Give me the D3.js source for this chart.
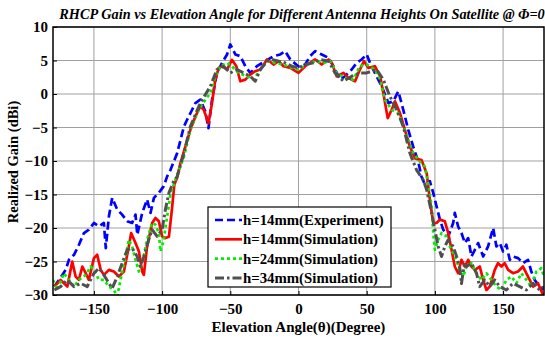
<!DOCTYPE html>
<html>
<head>
<meta charset="utf-8">
<script src="https://cdn.jsdelivr.net/npm/d3@7"></script>
<style>
  body { margin: 0; background: #fff; }
  svg { display: block; font-family: "Liberation Serif", "Times New Roman", serif; }
</style>
</head>
<body>
<div class="chart"></div>
<script>
// values, [angle (deg), gain (dBi)]
const expH14 = [
  [-179, -28.75], [-175.6, -27.75], [-170.7, -26.25], [-168.3, -24.75], [-164.6, -24], [-161, -22.5],
  [-157.3, -20.75], [-153.7, -20.25], [-150, -19.25], [-146.3, -19.75], [-142.7, -19.25], [-141.3, -23],
  [-139, -18.25], [-136.6, -15.5], [-132.9, -17.25], [-129.3, -18], [-125.6, -19], [-122, -19.25],
  [-119.5, -18], [-118.2, -21], [-114.6, -17.75], [-111, -15.75], [-108.5, -17.75], [-106, -15.5],
  [-102.4, -14.75], [-98.8, -13.75], [-96.3, -12.3], [-93.9, -11.35], [-89, -8.85], [-84, -4.85],
  [-81.7, -3.85], [-78, -2.35], [-75.6, -1.35], [-72, -0.85], [-68.3, -2.6], [-66, -5.1],
  [-63.4, -0.85], [-59.8, 3.15], [-56, 4.65], [-52.4, 5.9], [-50, 7.4], [-46.3, 5.9], [-42.7, 5.65],
  [-39, 4.15], [-35.4, 3.15], [-30.5, 4.15], [-24.4, 4.9], [-18.3, 5.65], [-13.4, 5.9], [-9.8, 6.4],
  [-6, 5.15], [0, 4.1], [4.9, 4.4], [8.5, 5.65], [12.2, 6.4], [17, 5.9], [22, 5.4], [25.6, 4.15],
  [30.5, 2.15], [34, 2.65], [39, 3.65], [42.7, 4.65], [46.3, 5.15], [50, 5.9], [52.4, 4.65], [56, 3.15],
  [61, 1.15], [65.9, -1.35], [69.5, -1.1], [73.2, 0.4], [76.8, -2.35], [80.5, -5.35], [84.1, -7.85],
  [87.8, -10.1], [90.2, -12.35], [92.7, -13.5], [96.3, -13], [98.8, -14.75], [101.2, -16.75],
  [103.7, -18.75], [106.1, -20.25], [109.8, -21.25], [113.4, -19.25], [114.6, -17.75], [117, -19.75],
  [119.5, -20.75], [122, -22.25], [124.4, -21.5], [126.8, -24.25], [129.3, -23.25], [131.7, -22.25],
  [135.4, -24.25], [139, -22.75], [142.7, -20], [145.1, -22.75], [147.6, -22.25], [150, -23.5],
  [152.4, -22.5], [154.9, -24.75], [157.3, -24.25], [161, -24.5], [164.6, -25.25], [168.3, -24.75],
  [170.7, -26.5], [173.2, -27.75], [176.8, -28.75], [179.3, -29.25]
];
const simH14 = [
  [-179, -28.75], [-174.4, -27.75], [-169.5, -28.75], [-165.9, -25], [-163.4, -27.25], [-161, -27.75],
  [-158.5, -25.75], [-156, -26.75], [-153.7, -27.75], [-150, -24.5], [-147.6, -24], [-145, -26.25],
  [-142.7, -27], [-139, -26.25], [-135.4, -26.5], [-131.7, -27.25], [-128, -26.5], [-124.4, -22.75],
  [-122.7, -20.75], [-119.5, -22.25], [-117, -23.5], [-114.6, -26.5], [-113.4, -27], [-111, -22.75],
  [-107.3, -19.25], [-104.9, -18.5], [-102.4, -19], [-100, -21.25], [-97.6, -21.5], [-95, -21.3],
  [-92.7, -17], [-91, -13.5], [-89, -12.5], [-86.6, -10.35], [-79.3, -5.35], [-75.6, -3.35], [-72, -1.85],
  [-69.5, -2.35], [-66, -4.35], [-63.4, -1.35], [-61, 2.15], [-58.5, 3.9], [-56, 4.15], [-52.4, 3.65],
  [-48.8, 5.1], [-45.6, 4.15], [-42.7, 1.9], [-39, 2.15], [-35.4, 2.9], [-31.7, 3.4], [-28, 3.65],
  [-23, 5.15], [-18.3, 4.4], [-14.6, 4.9], [-11, 4.15], [-6, 3.9], [0, 3.15], [4.9, 4.15], [8.5, 4.65],
  [12.2, 5.15], [17, 4.4], [22, 5.15], [24.4, 4.65], [28, 2.65], [33, 3.15], [36.6, 2.4], [41.5, 1.9],
  [45, 3.65], [48, 4.9], [51.2, 3.9], [56, 4.15], [59.8, 2.65], [62.2, 0.15], [65.4, -3.6], [68.3, -2.35],
  [70.7, -1.1], [74.4, -2.85], [78, -5.35], [81.7, -7.85], [85.4, -9.6], [90.2, -9.85], [94, -11.85],
  [96.3, -15.75], [98.8, -19.25], [101.2, -19.25], [103.7, -18.75], [107.3, -19], [109.8, -20.75],
  [112.2, -23.25], [114.6, -25.75], [117, -26.75], [119.5, -24.75], [122, -25.75], [124.4, -24.75],
  [126.8, -25.75], [129.3, -26.25], [132.9, -25.75], [135.4, -27.75], [137.8, -29.25], [140.2, -28.75],
  [143.9, -26.25], [146.3, -25.25], [148.8, -25.75], [151.2, -25.25], [153.7, -26.25], [157.3, -26.75],
  [161, -26.5], [164.6, -25.75], [168.3, -27.25], [172, -28.75], [175.6, -28.25], [179.3, -30]
];
const simH24 = [
  [-180, -27.75], [-176.8, -29.25], [-172, -26.75], [-168.3, -27.75], [-164.6, -28.75], [-161, -27.75],
  [-156, -27], [-152.4, -25.75], [-150, -26.25], [-146.3, -27.75], [-142.7, -27.75], [-139, -28.75],
  [-135.4, -29.25], [-132.9, -30.2], [-130.5, -27.75], [-126.8, -24.25], [-124.4, -21.75], [-122, -22.75],
  [-119.5, -24.75], [-117, -26.5], [-114.6, -25.25], [-111, -21.75], [-107.3, -19.25], [-104.9, -19.5],
  [-102.4, -20.75], [-101.2, -23.5], [-98.8, -21.75], [-96.3, -18.25], [-93.9, -15], [-90.2, -12.75],
  [-84, -9.35], [-79.3, -5.35], [-73.2, -2.35], [-68.3, -0.85], [-64.6, 0.15], [-61, 2.65], [-57.3, 4.15],
  [-52.4, 4.65], [-48.8, 4.15], [-44, 3.15], [-37.8, 2.65], [-32.9, 2.15], [-28, 3.65], [-23, 4.9],
  [-17, 4.65], [-11, 4.4], [-4.9, 3.9], [0, 3.65], [6.1, 4.4], [12.2, 4.9], [18.3, 4.65], [23.2, 4.9],
  [28, 3.15], [34, 2.4], [40.2, 2.15], [45, 4.15], [50, 4.4], [56, 3.65], [59.8, 2.15], [63.4, -0.85],
  [68.3, -2.35], [73.2, -2.85], [78, -5.35], [82.9, -8.35], [87.8, -9.85], [92.7, -10.85], [95.1, -13.5],
  [97.6, -16.75], [98.8, -20.75], [100, -23.25], [102.4, -21.75], [104.9, -20.75], [108.5, -21.25],
  [111, -22.75], [114.6, -24.25], [118.3, -26.25], [120.7, -27.25], [123.2, -25.75], [126.8, -25.25],
  [130.5, -26.75], [134.1, -27.75], [137.8, -26.75], [141.5, -27.75], [145.1, -28.75], [148.8, -29.25],
  [152.4, -27.75], [156.1, -27.25], [159.8, -28.25], [163.4, -26.75], [167.1, -27.75], [170.7, -28.75],
  [174.4, -26.5], [178, -26], [180, -27.25]
];
const simH34 = [
  [-179, -29.25], [-174.4, -28.75], [-169.5, -27.75], [-164.6, -28.75], [-159.8, -28.25], [-154.9, -28.75],
  [-150, -26.75], [-146.3, -26], [-142.7, -27], [-139, -28.25], [-136.6, -29], [-132.9, -27.25],
  [-129.3, -25.25], [-125.6, -23.25], [-122, -23], [-118.3, -24.25], [-115.9, -25.75], [-113.4, -24.25],
  [-109.8, -21.75], [-107.3, -20.25], [-103.7, -21.25], [-100, -20.25], [-97.6, -17.25], [-95, -14.75],
  [-91.5, -13], [-89, -12.35], [-84, -8.85], [-79.3, -4.85], [-72, -1.35], [-64.6, 1.15], [-59.8, 3.65],
  [-54.9, 4.15], [-50, 3.15], [-45, 3.65], [-40.2, 3.15], [-35.4, 2.65], [-31.7, 1.9], [-28, 3.65],
  [-23, 4.9], [-19.5, 5.15], [-14.6, 4.9], [-9.8, 4.65], [-4.9, 4.15], [0, 3.9], [4.9, 4.4], [11, 4.65],
  [15.9, 5.15], [22, 4.9], [26.8, 3.15], [33, 1.9], [39, 2.65], [45, 3.15], [50, 3.15], [57.3, 3.65],
  [62.2, 2.15], [67, -0.35], [72, -2.35], [76.8, -4.85], [81.7, -8.85], [86.6, -11.35], [91.5, -12.85],
  [93.9, -14.25], [97.6, -17.75], [100, -20.25], [102.4, -22.75], [104.9, -24.25], [107.3, -22.75],
  [109.8, -21.75], [113.4, -22.75], [115.9, -24.25], [118.3, -26], [119.5, -28.3], [121.5, -25.5],
  [123.2, -25.75], [126.8, -25.25], [130.5, -26.75], [132.9, -28.75], [136.6, -27.75], [140.2, -28.75],
  [143.9, -27.75], [147.6, -28.75], [152.4, -29.25], [157.3, -28.25], [162.2, -28.75], [167.1, -29.25],
  [172, -28.25], [176.8, -29.25], [180, -28.75]
];

const seriesNames = ['h=14mm(Experiment)', 'h=14mm(Simulation)', 'h=24mm(Simulation)', 'h=34mm(Simulation)'];
const seriesColors = ['#0000ff', '#ff0000', '#00ee00', '#505050'];
const seriesDash = ['8,4', null, '3,3', '9,3,2.5,3'];
const xTicks = [-150, -100, -50, 0, 50, 100, 150];
const yTicks = [-30, -25, -20, -15, -10, -5, 0, 5, 10];

const w = 545, h = 338;
const margin = { top: 27, right: 1, bottom: 43, left: 53 };

const svg = d3.select('.chart')
  .append('svg')
  .attr('width', w)
  .attr('height', h);

const xScale = d3.scaleLinear()
  .domain([-180, 180])
  .range([margin.left, w - margin.right]);

const yScale = d3.scaleLinear()
  .domain([-30, 10])
  .range([h - margin.bottom, margin.top]);

// grid
svg.append('g')
  .selectAll('line')
  .data(xTicks)
  .join('line')
  .attr('x1', d => xScale(d)).attr('x2', d => xScale(d))
  .attr('y1', margin.top).attr('y2', h - margin.bottom)
  .attr('stroke', '#a0a0a0').attr('stroke-width', 1);

svg.append('g')
  .selectAll('line')
  .data(yTicks)
  .join('line')
  .attr('x1', margin.left).attr('x2', w - margin.right)
  .attr('y1', d => yScale(d)).attr('y2', d => yScale(d))
  .attr('stroke', '#a0a0a0').attr('stroke-width', 1);

// curves
svg.append('clipPath').attr('id', 'plotClip')
  .append('rect')
  .attr('x', margin.left).attr('y', margin.top)
  .attr('width', w - margin.left - margin.right)
  .attr('height', h - margin.top - margin.bottom);

const line = d3.line()
  .x(d => xScale(d[0]))
  .y(d => yScale(d[1]));

const allSeries = [expH14, simH14, simH24, simH34];

svg.append('g')
  .attr('clip-path', 'url(#plotClip)')
  .selectAll('path')
  .data(allSeries)
  .join('path')
  .attr('fill', 'none')
  .attr('stroke', (d, i) => seriesColors[i])
  .attr('stroke-width', (d, i) => i === 3 ? 3 : 2.7)
  .attr('stroke-dasharray', (d, i) => seriesDash[i])
  .attr('stroke-linejoin', 'round')
  .attr('d', line);

// axes
const xAxis = d3.axisBottom(xScale).tickValues(xTicks).tickSize(-4).tickPadding(8);
const yAxis = d3.axisLeft(yScale).tickValues(yTicks).tickSize(-4).tickPadding(5);

svg.append('g')
  .attr('transform', `translate(0, ${h - margin.bottom})`)
  .call(xAxis)
  .call(g => g.select('.domain').remove())
  .call(g => g.selectAll('text').attr('font-size', 15).attr('font-weight', 'bold')
    .attr('font-family', '"Liberation Serif", serif').attr('fill', '#000'));

svg.append('g')
  .attr('transform', `translate(${margin.left}, 0)`)
  .call(yAxis)
  .call(g => g.select('.domain').remove())
  .call(g => g.selectAll('text').attr('font-size', 15).attr('font-weight', 'bold')
    .attr('font-family', '"Liberation Serif", serif').attr('fill', '#000'));

// frame
svg.append('rect')
  .attr('x', margin.left).attr('y', margin.top)
  .attr('width', w - margin.left - margin.right)
  .attr('height', h - margin.top - margin.bottom)
  .attr('fill', 'none').attr('stroke', '#000').attr('stroke-width', 1.5);

// titles
svg.append('text')
  .attr('x', 302).attr('y', 19)
  .attr('text-anchor', 'middle')
  .attr('font-size', 14.3).attr('font-weight', 'bold').attr('font-style', 'italic')
  .text('RHCP Gain vs Elevation Angle for Different Antenna Heights On Satellite @ Φ=0');

svg.append('text')
  .attr('x', xScale(0)).attr('y', 332)
  .attr('text-anchor', 'middle')
  .attr('font-size', 15).attr('font-weight', 'bold')
  .text('Elevation Angle(θ)(Degree)');

svg.append('text')
  .attr('transform', `translate(18, 162) rotate(-90)`)
  .attr('text-anchor', 'middle')
  .attr('font-size', 14.5).attr('font-weight', 'bold')
  .text('Realized Gain (dBi)');

// legend
const legend = svg.append('g').attr('transform', 'translate(208, 207)');
legend.append('rect')
  .attr('width', 183).attr('height', 80)
  .attr('fill', '#fff').attr('stroke', '#000').attr('stroke-width', 1.2);

const rows = legend.selectAll('g.row')
  .data(seriesNames)
  .join('g')
  .attr('class', 'row')
  .attr('transform', (d, i) => `translate(0, ${13 + i * 19.3})`);

rows.append('line')
  .attr('x1', 7).attr('x2', 34)
  .attr('stroke', (d, i) => seriesColors[i])
  .attr('stroke-width', (d, i) => i === 3 ? 3 : 2.7)
  .attr('stroke-dasharray', (d, i) => seriesDash[i]);

rows.append('text')
  .attr('x', 35).attr('y', 5)
  .attr('font-size', 14.8).attr('font-weight', 'bold')
  .text(d => d);
</script>
</body>
</html>
